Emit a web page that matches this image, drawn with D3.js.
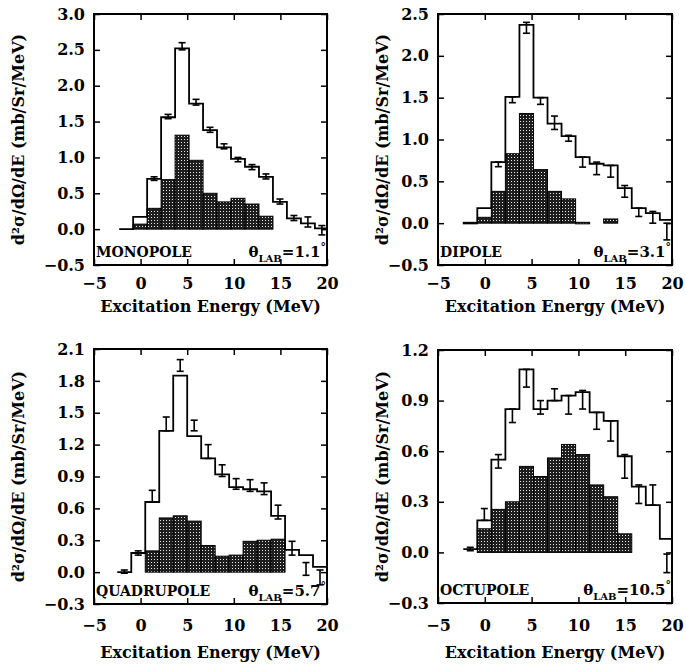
<!DOCTYPE html>
<html><head><meta charset="utf-8">
<script src="https://cdn.jsdelivr.net/npm/d3@7"></script>
<style>
body{margin:0;background:#fff;}
text{font-family:"DejaVu Serif",serif;font-weight:bold;fill:#000;}
</style></head>
<body>
<svg id="chart" width="686" height="664"></svg>
<script>
// ---------- DATA ----------
const panelNames = ["MONOPOLE","DIPOLE","QUADRUPOLE","OCTUPOLE"];
const thetaLab = ["1.1","3.1","5.7","10.5"];
const xTicks = [-5,0,5,10,15,20];
const yTicks1 = [-0.5,0.0,0.5,1.0,1.5,2.0,2.5,3.0];
const yTicks2 = [-0.5,0.0,0.5,1.0,1.5,2.0,2.5];
const yTicks3 = [-0.3,0.0,0.3,0.6,0.9,1.2,1.5,1.8,2.1];
const yTicks4 = [-0.3,0.0,0.3,0.6,0.9,1.2];

const edgesA = [-2.3,-0.8,0.7,2.2,3.7,5.2,6.7,8.2,9.7,11.2,12.7,14.2,15.7,17.2,18.7,20.2];
const edgesB = [-2.5,-1.0,0.5,2.0,3.5,5.0,6.5,8.0,9.5,11.0,12.5,14.0,15.5,17.0,18.5,20.0];

const total1 = [0.0,0.17,0.70,1.56,2.52,1.75,1.38,1.14,0.98,0.87,0.73,0.38,0.15,0.08,0.01];
const hatch1 = [0,0.07,0.29,0.69,1.31,0.96,0.50,0.38,0.43,0.35,0.18,0,0,0,0];
const errLo1 = [null,null,0.68,1.54,2.50,1.73,1.35,1.12,0.94,0.83,0.70,0.35,0.12,0.03,-0.08];
const errHi1 = [null,null,0.73,1.60,2.60,1.81,1.42,1.19,1.00,0.90,0.77,0.42,0.19,0.17,0.05];

const total2 = [0.0,0.18,0.73,1.51,2.37,1.50,1.19,1.04,0.79,0.71,0.69,0.42,0.18,0.12,0.04];
const hatch2 = [0.01,0.07,0.38,0.83,1.31,0.64,0.38,0.29,0.01,0,0.05,0,0,0,0];
const errLo2 = [null,null,0.675,1.44,2.27,1.42,1.12,0.98,0.67,0.58,0.55,0.31,0.08,0.0,-0.2];
const errHi2 = [null,null,0.73,1.51,2.40,1.50,1.28,1.05,0.79,0.73,0.69,0.45,0.18,0.14,0.0];

const total3 = [0.0,0.18,0.66,1.33,1.85,1.28,1.07,0.92,0.80,0.78,0.76,0.53,0.21,0.16,0.05];
const hatch3 = [0,0,0.20,0.51,0.53,0.48,0.25,0.15,0.16,0.29,0.30,0.31,0,0,0];
const errLo3 = [-0.01,0.16,0.66,1.33,1.89,1.33,1.07,0.90,0.78,0.76,0.73,0.50,0.16,-0.03,-0.12];
const errHi3 = [0.02,0.20,0.77,1.46,2.00,1.43,1.20,1.01,0.88,0.87,0.84,0.63,0.29,0.09,0.02];

const total4 = [0.02,0.19,0.55,0.85,1.085,0.85,0.90,0.93,0.95,0.83,0.78,0.57,0.39,0.28,0.08];
const hatch4 = [0,0.14,0.255,0.30,0.51,0.45,0.56,0.64,0.58,0.40,0.33,0.11,0,0,0];
const errLo4 = [0.01,0.19,0.50,0.77,0.98,0.82,0.90,0.82,0.85,0.73,0.66,0.44,0.29,0.28,-0.12];
const errHi4 = [0.03,0.26,0.58,0.85,1.085,0.90,0.97,0.93,0.96,0.83,0.78,0.58,0.40,0.40,-0.01];

const yTitle = "d²σ/dΩ/dE (mb/Sr/MeV)";
const xTitle = "Excitation Energy (MeV)";

// ---------- LAYOUT ----------
const panels = [
  {name:panelNames[0], theta:thetaLab[0], x0:94, x1:327, yT:14, yB:265, yDom:[-0.5,3.0], yTicks:yTicks1, edges:edgesA, total:total1, hatch:hatch1, lo:errLo1, hi:errHi1, ytx:19, pad:13, tdy:47},
  {name:panelNames[1], theta:thetaLab[1], x0:438, x1:672, yT:14, yB:265, yDom:[-0.5,2.5], yTicks:yTicks2, edges:edgesA, total:total2, hatch:hatch2, lo:errLo2, hi:errHi2, ytx:383, pad:13, tdy:47},
  {name:panelNames[2], theta:thetaLab[2], x0:94, x1:327, yT:349, yB:604, yDom:[-0.3,2.1], yTicks:yTicks3, edges:edgesB, total:total3, hatch:hatch3, lo:errLo3, hi:errHi3, ytx:19, pad:16, tdy:54},
  {name:panelNames[3], theta:thetaLab[3], x0:438, x1:672, yT:350, yB:603, yDom:[-0.3,1.2], yTicks:yTicks4, edges:edgesA, total:total4, hatch:hatch4, lo:errLo4, hi:errHi4, ytx:383, pad:17, tdy:55}
];

const svg = d3.select("#chart");
const defs = svg.append("defs");
const pat = defs.append("pattern").attr("id","hatch").attr("width",3).attr("height",3).attr("patternUnits","userSpaceOnUse");
pat.append("rect").attr("width",3).attr("height",3).attr("fill","#1e1e1e");
pat.append("rect").attr("x",1).attr("y",1).attr("width",1).attr("height",1).attr("fill","#e8e8e8");

panels.forEach((p,i)=>{
  const x = d3.scaleLinear().domain([-5,20]).range([p.x0,p.x1]);
  const y = d3.scaleLinear().domain(p.yDom).range([p.yB,p.yT]);
  const g = svg.append("g");
  defs.append("clipPath").attr("id","clip"+i).append("rect")
    .attr("x",p.x0).attr("y",p.yT).attr("width",p.x1-p.x0).attr("height",p.yB-p.yT);
  const plot = g.append("g").attr("clip-path","url(#clip"+i+")");

  // hatched bars
  const bins = p.hatch.map((h,k)=>({a:p.edges[k],b:p.edges[k+1],h:h})).filter(d=>d.h>0);
  plot.selectAll("rect.h").data(bins).enter().append("rect")
    .attr("x",d=>x(d.a)).attr("width",d=>x(d.b)-x(d.a))
    .attr("y",d=>y(d.h)).attr("height",d=>Math.max(1.5,y(0)-y(d.h)))
    .attr("fill","url(#hatch)").attr("stroke","#000").attr("stroke-width",1);

  // step line
  const pts = p.total.map((v,k)=>[p.edges[k],v]);
  pts.push([p.edges[p.edges.length-1],p.total[p.total.length-1]]);
  plot.append("path").attr("d",d3.line().x(d=>x(d[0])).y(d=>y(d[1])).curve(d3.curveStepAfter)(pts))
    .attr("fill","none").attr("stroke","#000").attr("stroke-width",1.8);

  // error bars
  const eb = p.lo.map((lo,k)=>({c:(p.edges[k]+p.edges[k+1])/2, lo:lo, hi:p.hi[k]})).filter(d=>d.lo!==null);
  const ebg = plot.selectAll("g.e").data(eb).enter().append("g");
  ebg.append("line").attr("x1",d=>x(d.c)).attr("x2",d=>x(d.c)).attr("y1",d=>y(d.lo)).attr("y2",d=>y(d.hi))
    .attr("stroke","#000").attr("stroke-width",1.6);
  ebg.append("line").attr("x1",d=>x(d.c)-3.5).attr("x2",d=>x(d.c)+3.5).attr("y1",d=>y(d.lo)).attr("y2",d=>y(d.lo))
    .attr("stroke","#000").attr("stroke-width",1.6);
  ebg.append("line").attr("x1",d=>x(d.c)-3.5).attr("x2",d=>x(d.c)+3.5).attr("y1",d=>y(d.hi)).attr("y2",d=>y(d.hi))
    .attr("stroke","#000").attr("stroke-width",1.6);

  // axes (ticks inward on all sides)
  const fmt = d3.format(".1f");
  const left = g.append("g").attr("transform",`translate(${p.x0},0)`)
    .call(d3.axisLeft(y).tickValues(p.yTicks).tickSize(-6).tickPadding(9).tickFormat(d=>fmt(d).replace("-","−")));
  const right = g.append("g").attr("transform",`translate(${p.x1},0)`)
    .call(d3.axisRight(y).tickValues(p.yTicks).tickSize(-6).tickFormat(""));
  const bottom = g.append("g").attr("transform",`translate(0,${p.yB})`)
    .call(d3.axisBottom(x).tickValues(xTicks).tickSize(-6).tickPadding(p.pad).tickFormat(d=>String(d).replace("-","−")));
  const top = g.append("g").attr("transform",`translate(0,${p.yT})`)
    .call(d3.axisTop(x).tickValues(xTicks).tickSize(-6).tickFormat(""));
  [left,right,bottom,top].forEach(a=>{
    a.select(".domain").remove();
    a.selectAll(".tick line").attr("stroke","#000").attr("stroke-width",1.5);
    a.selectAll("text").style("font-family","'DejaVu Serif',serif").style("font-weight","bold").style("font-size","16px").attr("fill","#000");
  });
  g.append("rect").attr("x",p.x0).attr("y",p.yT).attr("width",p.x1-p.x0).attr("height",p.yB-p.yT)
    .attr("fill","none").attr("stroke","#000").attr("stroke-width",2);

  // labels inside
  g.append("text").attr("x",p.x0+2).attr("y",p.yB-8).attr("font-size",14).text(p.name);
  const t = g.append("text").attr("x",p.x1-1).attr("y",p.yB-8).attr("text-anchor","end").attr("font-size",15);
  t.append("tspan").text("θ");
  t.append("tspan").attr("dy",5).attr("font-size",10).text("LAB");
  t.append("tspan").attr("dy",-5).text("=" + p.theta);
  t.append("tspan").attr("dy",-6).attr("font-size",11).text("°");

  // axis titles
  g.append("text").attr("x",(p.x0+p.x1)/2).attr("y",p.yB+p.tdy).attr("text-anchor","middle").attr("font-size",16).text(xTitle);
  g.append("text").attr("transform",`translate(${p.ytx},${(p.yT+p.yB)/2}) rotate(-90)`).attr("text-anchor","middle")
    .attr("dominant-baseline","middle").attr("font-size",16).text(yTitle);
});
</script>
</body></html>
